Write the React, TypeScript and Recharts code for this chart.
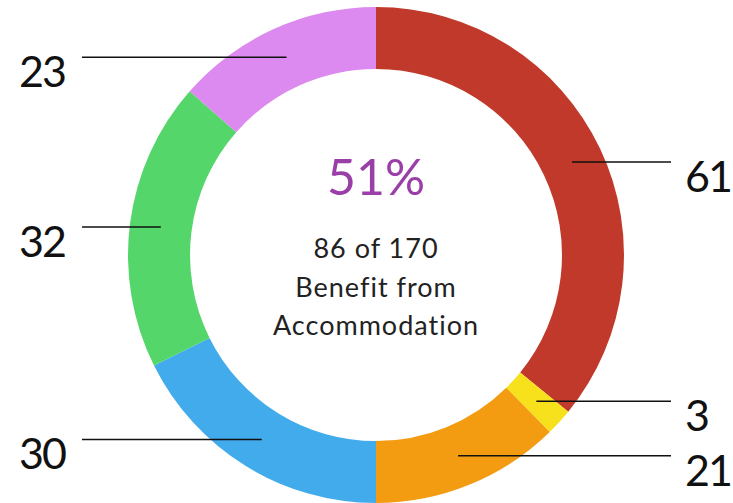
import { Cell, Pie, PieChart } from 'recharts';

const CATEGORIES = ['A', 'B', 'C', 'D', 'E', 'F'];
const VALUES = [61, 3, 21, 30, 32, 23];
const COLORS = ['#c0392b', '#f7e11d', '#f39c12', '#42abec', '#55d66b', '#dc8aef'];
const CENTER_LINES = ['86 of 170', 'Benefit from', 'Accommodation'];
const CENTER_PERCENT = '51%';

const FONT = 'Lato, "Noto Sans", sans-serif';
const WIDTH = 733;
const HEIGHT = 503;
const CX = 376;
const CY = 255;
const INNER = 186;
const OUTER = 248;
const RADIAN = Math.PI / 180;
const RIGHT_X = 671;
const LEFT_X = 82;

const data = CATEGORIES.map((name, i) => ({ name, value: VALUES[i] }));

type LabelProps = {
  cx: number;
  cy: number;
  midAngle: number;
  innerRadius: number;
  outerRadius: number;
  value: number;
  index: number;
};

function renderLabel({ cx, cy, midAngle, innerRadius, outerRadius, value, index }: LabelProps) {
  const r = (innerRadius + outerRadius) / 2;
  const x = cx + r * Math.cos(-midAngle * RADIAN);
  const y = cy + r * Math.sin(-midAngle * RADIAN);
  const right = x > cx;
  const endX = right ? RIGHT_X : LEFT_X;
  return (
    <g key={`lbl-${index}`}>
      <line x1={x} y1={y} x2={endX} y2={y} stroke="#111" strokeWidth={1.5} />
      <text
        x={right ? endX + 14 : endX - 17}
        y={y + 30}
        textAnchor={right ? 'start' : 'end'}
        fontFamily={FONT}
        fontSize={43}
        letterSpacing={-2}
        fill="#111"
      >
        {value}
      </text>
    </g>
  );
}

export default function App() {
  return (
    <div style={{ position: 'absolute', left: 0, top: 0, width: WIDTH, height: HEIGHT }}>
      <PieChart width={WIDTH} height={HEIGHT} margin={{ top: 0, right: 0, bottom: 0, left: 0 }}>
        <Pie
          data={data}
          dataKey="value"
          cx={CX}
          cy={CY}
          innerRadius={INNER}
          outerRadius={OUTER}
          startAngle={90}
          endAngle={-270}
          stroke="none"
          labelLine={false}
          label={renderLabel}
          isAnimationActive={false}
        >
          {data.map((d, i) => (
            <Cell key={d.name} fill={COLORS[i]} />
          ))}
        </Pie>
      </PieChart>
      <svg
        width={WIDTH}
        height={HEIGHT}
        style={{ position: 'absolute', left: 0, top: 0, pointerEvents: 'none' }}
      >
        <text x={CX} y={195} textAnchor="middle" fontFamily={FONT} fontSize={50} fill="#9b3fa8">
          {CENTER_PERCENT}
        </text>
        {CENTER_LINES.map((t, i) => (
          <text
            key={t}
            x={CX}
            y={258 + i * 38.5}
            textAnchor="middle"
            fontFamily={FONT}
            fontSize={27}
            letterSpacing={1}
            fill="#222"
          >
            {t}
          </text>
        ))}
      </svg>
    </div>
  );
}
